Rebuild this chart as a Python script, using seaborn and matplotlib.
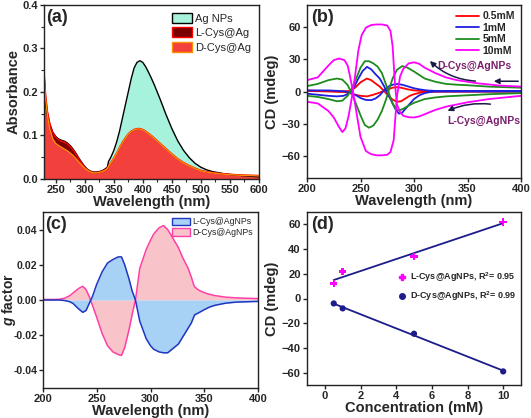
import numpy as np
import pandas as pd
import matplotlib
matplotlib.use('Agg')
import matplotlib.pyplot as plt
from matplotlib.patches import Patch
from matplotlib.lines import Line2D
from matplotlib.ticker import AutoMinorLocator, FormatStrFormatter
import seaborn as sns

# ---------- panel (a) : UV-vis absorbance ----------
wl_a = [230, 233, 236, 240, 245, 250, 255, 260, 265, 270, 275, 280, 285, 290, 295,
        300, 305, 310, 315, 320, 325, 330, 335, 339, 341, 345, 350, 355, 360, 365,
        370, 375, 380, 385, 390, 395, 400, 405, 410, 415, 420, 430, 440, 450, 460,
        470, 480, 490, 500, 510, 520, 540, 560, 580, 600]
abs_ag = [0.200, 0.170, 0.145, 0.125, 0.108, 0.098, 0.092, 0.089, 0.087, 0.083, 0.077,
          0.069, 0.059, 0.048, 0.038, 0.029, 0.022, 0.018, 0.016, 0.016, 0.017, 0.019,
          0.023, 0.027, 0.040, 0.050, 0.065, 0.085, 0.110, 0.140, 0.170, 0.200, 0.230,
          0.255, 0.268, 0.272, 0.268, 0.258, 0.245, 0.231, 0.216, 0.183, 0.148, 0.116,
          0.088, 0.066, 0.049, 0.036, 0.027, 0.021, 0.017, 0.012, 0.009, 0.007, 0.005]
abs_l = [0.250, 0.190, 0.155, 0.128, 0.107, 0.096, 0.090, 0.087, 0.085, 0.081, 0.075,
         0.067, 0.057, 0.046, 0.036, 0.027, 0.021, 0.017, 0.015, 0.015, 0.016, 0.018,
         0.021, 0.025, 0.030, 0.038, 0.048, 0.060, 0.073, 0.085, 0.095, 0.104, 0.110,
         0.114, 0.116, 0.116, 0.114, 0.110, 0.105, 0.100, 0.094, 0.082, 0.070, 0.058,
         0.047, 0.038, 0.031, 0.025, 0.020, 0.017, 0.015, 0.012, 0.010, 0.009, 0.008]
abs_d = [0.240, 0.180, 0.145, 0.115, 0.093, 0.082, 0.077, 0.073, 0.069, 0.065, 0.060,
         0.054, 0.047, 0.039, 0.032, 0.025, 0.020, 0.016, 0.014, 0.014, 0.015, 0.017,
         0.020, 0.024, 0.029, 0.037, 0.047, 0.059, 0.072, 0.084, 0.094, 0.103, 0.109,
         0.113, 0.115, 0.115, 0.113, 0.109, 0.104, 0.099, 0.093, 0.081, 0.069, 0.057,
         0.046, 0.037, 0.030, 0.024, 0.019, 0.016, 0.014, 0.011, 0.009, 0.008, 0.007]

# ---------- panel (b) : CD spectra, D- and L-Cys@AgNPs ----------
wl_mag_d = [200, 210, 220, 225, 230, 235, 238, 240, 243, 246, 250, 255, 260, 265, 270, 275,
            278, 281, 284, 287, 290, 295, 300, 305, 310, 320, 330, 340, 350, 360, 370, 380, 390, 400]
cd_mag_d = [10.5, 13, 24, 29, 30.5, 29, 24, 15, 0, -18, -42, -55, -58, -59, -59, -58.5,
            -56, -45, -5, 14, 21, 26, 27, 25.5, 22, 17, 13, 10.5, 9, 7.5, 6.5, 5.5, 5, 4.5]
wl_mag_l = [200, 210, 220, 225, 230, 233, 236, 239, 242, 245, 248, 251, 255, 260, 265, 270,
            275, 278, 280, 282, 284, 287, 290, 295, 300, 305, 310, 320, 330, 340, 350, 360,
            370, 380, 390, 400]
cd_mag_l = [-9.5, -11, -18, -24, -33, -37.5, -34, -22, -5, 15, 38, 52, 59, 61.5, 62, 62,
            61, 56, 42, 10, -12, -19, -22.5, -23.8, -24, -23, -21, -17, -14, -12, -10, -8.5,
            -7, -6, -5, -4]
wl_grn_d = [200, 210, 220, 228, 233, 238, 242, 246, 250, 254, 258, 262, 266, 270, 274, 277,
            280, 284, 289, 294, 300, 310, 320, 330, 340, 350, 370, 400]
cd_grn_d = [5, 7, 10.5, 12, 11, 6, -2, -12, -22, -31, -33.5, -31.5, -26, -18, -7, 3,
            12, 20, 23.5, 22, 18.5, 12, 9, 7, 6.3, 5.8, 4.5, 3.5]
wl_grn_l = [200, 210, 220, 228, 233, 238, 242, 246, 250, 254, 258, 262, 266, 270, 274, 277,
            280, 283, 286, 290, 295, 300, 310, 320, 330, 350, 370, 400]
cd_grn_l = [-4, -5, -7, -9, -8.5, -4, 3, 12, 22, 28, 28, 26, 23, 17, 6, -3,
            -11, -16, -17.5, -16, -13, -10.5, -7, -5.5, -4.5, -3.5, -2.5, -1.5]
wl_blu_d = [200, 210, 220, 230, 236, 240, 245, 250, 255, 260, 264, 268, 272, 276, 280, 285,
            290, 295, 300, 305, 312, 320, 400]
cd_blu_d = [1, 1, 1, 0.5, 0, -1, -3, -6, -7.8, -8, -6.5, -3.5, 1, 4.5, 6.3, 7,
            6, 4.5, 3, 2, 1, 0.5, 0.5]
wl_blu_l = [200, 210, 220, 228, 234, 238, 240, 244, 248, 252, 256, 260, 264, 268, 272, 276,
            280, 283, 286, 289, 292, 296, 300, 305, 310, 315, 320, 400]
cd_blu_l = [-2, -3, -4, -4.5, -4, -2.5, -1, 4, 12, 19, 22.8, 20.5, 16, 12, 5, -3,
            -11, -17, -20.5, -19.5, -16, -11.5, -7, -3.5, -1.5, -0.5, 0, 0]
wl_red_d = [200, 220, 235, 240, 245, 250, 256, 262, 268, 274, 280, 284, 288, 294, 300, 310,
            320, 400]
cd_red_d = [0.5, 0, -0.5, -1.5, -3, -4, -4.5, -3, -1, 1.5, 3.5, 4, 3.5, 2, 1, 0.3, 0, 0]
wl_red_l = [200, 210, 220, 230, 240, 245, 250, 256, 260, 264, 268, 272, 276, 280, 284, 288,
            292, 296, 300, 306, 312, 320, 400]
cd_red_l = [1, 0.5, 0.5, 0, 0.5, 3.5, 8.5, 12, 10.5, 7.5, 4.5, 0.5, -4, -7.5, -9.5, -9,
            -6.5, -4, -2.5, -1, -0.3, 0, 0]
conc_labels = ['0.5mM', '1mM', '5mM', '10mM']
conc_colors = ['#ff0000', '#1f1fe0', '#1e8c1e', '#ff00ff']

# ---------- panel (c) : g factor ----------
wl_c = [200, 210, 215, 220, 225, 228, 233, 237, 240, 243, 246, 250, 255, 260, 265, 270,
        273, 276, 280, 283, 286, 290, 296, 300, 303, 308, 312, 316, 320, 326, 330, 335,
        338, 340, 341, 345, 350, 355, 360, 370, 380, 390, 400]
g_l = [0, 0, 0, -0.0003, -0.001, -0.002, -0.005, -0.007, -0.006, -0.002, 0.002, 0.009,
       0.016, 0.021, 0.023, 0.0245, 0.0245, 0.02, 0.012, 0.005, 0, -0.012, -0.022, -0.026,
       -0.028, -0.0295, -0.030, -0.030, -0.028, -0.025, -0.021, -0.016, -0.013, -0.010,
       -0.0085, -0.0072, -0.0055, -0.004, -0.003, -0.0018, -0.0012, -0.001, -0.0008]
g_d = [0.0003, 0.0003, 0.0004, 0.001, 0.0025, 0.004, 0.0065, 0.0078, 0.006, 0.002, -0.003,
       -0.010, -0.019, -0.026, -0.0295, -0.031, -0.0315, -0.027, -0.017, -0.008, 0, 0.018,
       0.0287, 0.034, 0.0375, 0.041, 0.0423, 0.040, 0.036, 0.0297, 0.024, 0.018, 0.013,
       0.0090, 0.0075, 0.0055, 0.0042, 0.0032, 0.0025, 0.0016, 0.0012, 0.001, 0.0008]

# ---------- panel (d) : CD vs concentration ----------
conc = [0.5, 1, 5, 10]
cd_l_conc = [12, 22, 34, 62]
cd_d_conc = [-4, -8, -28.5, -59]

# ---------- style ----------
sns.set_style('ticks')
plt.rcParams['font.family'] = ['Liberation Sans', 'DejaVu Sans']
plt.rcParams['font.weight'] = 'bold'
plt.rcParams['axes.labelweight'] = 'bold'
plt.rcParams['mathtext.fontset'] = 'custom'
plt.rcParams['mathtext.rm'] = 'Liberation Sans:bold'
plt.rcParams['mathtext.bf'] = 'Liberation Sans:bold'
plt.rcParams['mathtext.it'] = 'Liberation Sans:italic:bold'
plt.rcParams['mathtext.default'] = 'bf'

fig = plt.figure(figsize=(5.31, 4.18), dpi=100)
W, H = 531, 418
ax_a = fig.add_axes([44 / W, 1 - 179 / H, 215 / W, 174 / H])
ax_b = fig.add_axes([307 / W, 1 - 178 / H, 214 / W, 173 / H])
ax_c = fig.add_axes([43 / W, 1 - 388 / H, 215 / W, 176 / H])
ax_d = fig.add_axes([307 / W, 1 - 385 / H, 214 / W, 173 / H])

for ax in (ax_a, ax_b, ax_c, ax_d):
    for s in ax.spines.values():
        s.set_linewidth(1.0)
        s.set_color('#222222')
    ax.tick_params(direction='out', length=3, width=1, labelsize=8, pad=1.5)

# (a)
ax = ax_a
ax.fill_between(wl_a, abs_ag, color='#a6f2dc', lw=0)
sns.lineplot(x=wl_a, y=abs_ag, ax=ax, color='black', lw=1.0)
ax.fill_between(wl_a, abs_l, color='#7a0000', lw=0)
sns.lineplot(x=wl_a, y=abs_l, ax=ax, color='#ff0000', lw=1.0)
ax.fill_between(wl_a, abs_d, color='#f2403c', lw=0)
sns.lineplot(x=wl_a, y=abs_d, ax=ax, color='#ff9000', lw=0.9)
ax.set_xlim(230, 600)
ax.set_ylim(0, 0.4)
ax.set_xticks(range(250, 601, 50))
ax.set_yticks([0, 0.1, 0.2, 0.3, 0.4])
ax.yaxis.set_major_formatter(FormatStrFormatter('%.1f'))
ax.xaxis.set_minor_locator(AutoMinorLocator(2))
ax.yaxis.set_minor_locator(AutoMinorLocator(2))
ax.tick_params(which='minor', direction='out', length=2, width=0.8)
ax.set_xlabel('Wavelength (nm)', fontsize=10.5, labelpad=0)
ax.set_ylabel('Absorbance', fontsize=10.5, labelpad=1)
ax.text(0.01, 0.975, '(a)', transform=ax.transAxes, va='top', ha='left', fontsize=13, weight='bold')
h_a = [Patch(facecolor='#a6f2dc', edgecolor='black', lw=1),
       Patch(facecolor='#7a0000', edgecolor='#ff0000', lw=1),
       Patch(facecolor='#f2403c', edgecolor='#ff9000', lw=1)]
ax.legend(h_a, ['Ag NPs', 'L-Cys@Ag', 'D-Cys@Ag'], loc='upper right', frameon=False,
          prop={'size': 8, 'weight': 'normal'}, handlelength=1.8, handleheight=1.0,
          labelspacing=0.35, handletextpad=0.3, borderaxespad=0.3)

# (b)
ax = ax_b
series_b = [(wl_red_d, cd_red_d, wl_red_l, cd_red_l),
            (wl_blu_d, cd_blu_d, wl_blu_l, cd_blu_l),
            (wl_grn_d, cd_grn_d, wl_grn_l, cd_grn_l),
            (wl_mag_d, cd_mag_d, wl_mag_l, cd_mag_l)]
rows = []
for lab, (xd, yd, xl, yl) in zip(conc_labels, series_b):
    rows += [dict(wl=x, cd=y, conc=lab, iso='D') for x, y in zip(xd, yd)]
    rows += [dict(wl=x, cd=y, conc=lab, iso='L') for x, y in zip(xl, yl)]
df_b = pd.DataFrame(rows)
sns.lineplot(data=df_b, x='wl', y='cd', hue='conc', units='iso', estimator=None, sort=False,
             palette=dict(zip(conc_labels, conc_colors)), hue_order=conc_labels, lw=1.3, ax=ax)
ax.set_xlim(200, 400)
ax.set_ylim(-80, 80)
ax.set_xticks(range(200, 401, 50))
ax.set_yticks([-60, -30, 0, 30, 60])
ax.set_xlabel('Wavelength (nm)', fontsize=10.5, labelpad=0)
ax.set_ylabel('CD (mdeg)', fontsize=10.5, labelpad=2)
ax.text(0.02, 0.975, '(b)', transform=ax.transAxes, va='top', ha='left', fontsize=13, weight='bold')
h_b = [Line2D([], [], color=c, lw=1.3) for c in conc_colors]
ax.legend(h_b, conc_labels, loc='upper right', frameon=False, prop={'size': 7.5, 'weight': 'bold'},
          handlelength=2.2, labelspacing=0.15, handletextpad=0.3, borderaxespad=0.2)
txt_col = '#7a1f6e'
arr_col = '#1a1a48'
ax.text(322, 24, 'D-Cys@AgNPs', color=txt_col, fontsize=7.5, weight='bold', va='center', ha='left')
ax.text(331, -27, 'L-Cys@AgNPs', color=txt_col, fontsize=7.5, weight='bold', va='center', ha='left')
ax.annotate('', xy=(313, 30), xytext=(360, 9.5),
            arrowprops=dict(arrowstyle='-|>', color=arr_col, lw=1.1, mutation_scale=8,
                            connectionstyle='arc3,rad=-0.2'))
ax.annotate('', xy=(372, 9.5), xytext=(400, 9.5),
            arrowprops=dict(arrowstyle='-|>', color=arr_col, lw=1.1, mutation_scale=8))
ax.annotate('', xy=(329, -19), xytext=(374, -12),
            arrowprops=dict(arrowstyle='-|>', color=arr_col, lw=1.1, mutation_scale=8,
                            connectionstyle='arc3,rad=0.15'))

# (c)
ax = ax_c
ax.fill_between(wl_c, g_d, color='#f9c3ca', lw=0)
ax.fill_between(wl_c, g_l, color='#a8d1f6', lw=0)
sns.lineplot(x=wl_c, y=g_d, ax=ax, color='#ff3fa5', lw=1.1)
sns.lineplot(x=wl_c, y=g_l, ax=ax, color='#2035c0', lw=1.1)
ax.set_xlim(200, 400)
ax.set_ylim(-0.05, 0.05)
ax.set_xticks(range(200, 401, 50))
ax.set_yticks([-0.04, -0.02, 0, 0.02, 0.04])
ax.yaxis.set_major_formatter(FormatStrFormatter('%.2f'))
ax.tick_params(axis='y', labelsize=7.6, pad=1)
ax.set_xlabel('Wavelength (nm)', fontsize=10.5, labelpad=0)
ax.set_ylabel(r'$\mathit{g}$ factor', fontsize=10)
ax.yaxis.set_label_coords(-0.118, 0.5)
ax.text(0.01, 0.975, '(c)', transform=ax.transAxes, va='top', ha='left', fontsize=13, weight='bold')
h_c = [Patch(facecolor='#a8d1f6', edgecolor='#2035c0', lw=1),
       Patch(facecolor='#f9c3ca', edgecolor='#ff3fa5', lw=1)]
ax.legend(h_c, ['L-Cys@AgNPs', 'D-Cys@AgNPs'], loc='upper right', frameon=False,
          prop={'size': 6.3, 'weight': 'normal'}, handlelength=2.0, handleheight=0.9,
          labelspacing=0.2, handletextpad=0.3, borderaxespad=0.2)

# (d)
ax = ax_d
navy = '#1c1c8a'
sns.regplot(x=conc, y=cd_l_conc, ax=ax, ci=None, scatter=False, color=navy, line_kws={'lw': 1.3})
sns.regplot(x=conc, y=cd_d_conc, ax=ax, ci=None, scatter=False, color=navy, line_kws={'lw': 1.3})
sns.scatterplot(x=conc, y=cd_l_conc, ax=ax, marker='P', s=28, color='#ff00ff', edgecolor='none', zorder=3)
sns.scatterplot(x=conc, y=cd_d_conc, ax=ax, marker='o', s=20, color=navy, edgecolor='none', zorder=3)
ax.set_xlim(-1, 11)
ax.set_ylim(-70, 70)
ax.set_xticks(range(0, 11, 2))
ax.set_yticks(range(-60, 61, 20))
ax.set_xlabel('Concentration (mM)', fontsize=10.5, labelpad=0)
ax.set_ylabel('CD (mdeg)', fontsize=10.5, labelpad=2)
ax.text(0.02, 0.975, '(d)', transform=ax.transAxes, va='top', ha='left', fontsize=13, weight='bold')
h_d = [Line2D([], [], ls='none', marker='P', color='#ff00ff', ms=5),
       Line2D([], [], ls='none', marker='o', color=navy, ms=4)]
ax.legend(h_d, [r'L-Cys@AgNPs, R$^2$= 0.95', r'D-Cys@AgNPs, R$^2$= 0.99'],
          loc='center right', bbox_to_anchor=(1.0, 0.57), frameon=False,
          prop={'size': 6.5, 'weight': 'bold'}, handlelength=1.0, handletextpad=0.4,
          labelspacing=0.6, borderaxespad=0.1)

for ax in (ax_a, ax_b, ax_c, ax_d):
    for lab in ax.get_xticklabels() + ax.get_yticklabels():
        lab.set_fontweight('bold')

fig.savefig('out.png', dpi=100)
